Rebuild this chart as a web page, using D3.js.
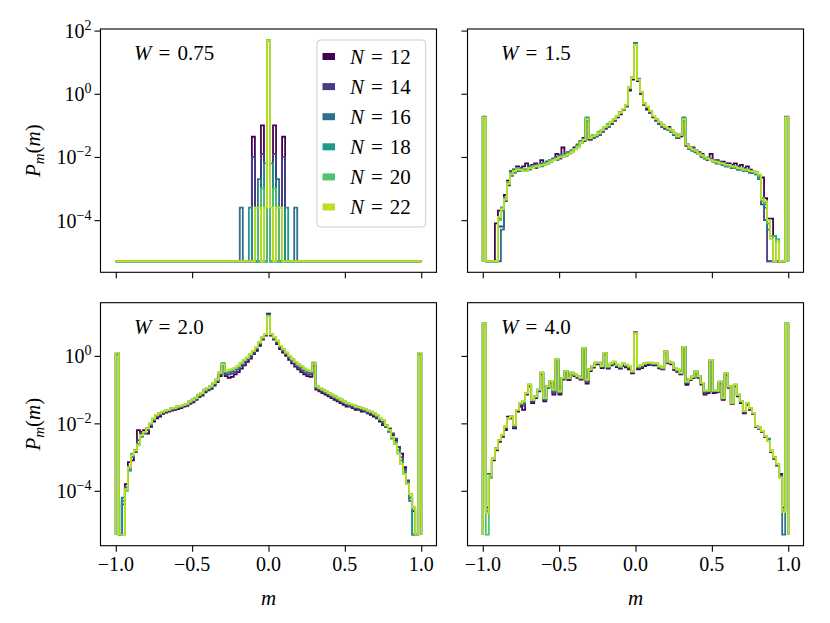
<!DOCTYPE html>
<html><head><meta charset="utf-8">
<script src="https://cdn.jsdelivr.net/npm/d3@7"></script>
<style>body{margin:0;background:#fff}svg text{font-family:"Liberation Serif","Times New Roman",serif;fill:#000}</style>
</head><body><svg id="c" width="830" height="623"></svg>
<script>
// ---------------- data (log10 of P_m(m) per bin, 101 bins over [-1,1]) ----------------
const Z = -5.3; // empty bin, drawn at the floor value
const sizes = [12, 14, 16, 18, 20, 22];
const disorder = ["0.75", "1.5", "2.0", "4.0"];
const xTicks = [-1.0, -0.5, 0.0, 0.5, 1.0];
const xTickLabels = ["\u22121.0", "\u22120.5", "0.0", "0.5", "1.0"];
const yTickExps = [-4, -2, 0, 2];

const W075_N12 = [Z,Z,Z,Z,Z,Z,Z,Z,Z,Z, Z,Z,Z,Z,Z,Z,Z,Z,Z,Z, Z,Z,Z,Z,Z,Z,Z,Z,Z,Z, Z,Z,Z,Z,Z,Z,Z,Z,Z,Z,
  Z,Z,Z,Z,Z,-1.36,Z,Z,-1.0,Z, 1.69,Z,-1.0,Z,Z,-1.36,Z,Z,Z,Z,
  Z,Z,Z,Z,Z,Z,Z,Z,Z,Z, Z,Z,Z,Z,Z,Z,Z,Z,Z,Z, Z,Z,Z,Z,Z,Z,Z,Z,Z,Z, Z,Z,Z,Z,Z,Z,Z,Z,Z,Z, Z];
const W075_N14 = [Z,Z,Z,Z,Z,Z,Z,Z,Z,Z, Z,Z,Z,Z,Z,Z,Z,Z,Z,Z, Z,Z,Z,Z,Z,Z,Z,Z,Z,Z, Z,Z,Z,Z,Z,Z,Z,Z,Z,Z,
  Z,Z,Z,Z,Z,-2.0,Z,Z,-1.9,Z, 1.69,Z,-1.9,Z,Z,-2.0,Z,Z,Z,Z,
  Z,Z,Z,Z,Z,Z,Z,Z,Z,Z, Z,Z,Z,Z,Z,Z,Z,Z,Z,Z, Z,Z,Z,Z,Z,Z,Z,Z,Z,Z, Z,Z,Z,Z,Z,Z,Z,Z,Z,Z, Z];
const W075_N16 = [Z,Z,Z,Z,Z,Z,Z,Z,Z,Z, Z,Z,Z,Z,Z,Z,Z,Z,Z,Z, Z,Z,Z,Z,Z,Z,Z,Z,Z,Z, Z,Z,Z,Z,Z,Z,Z,Z,Z,Z,
  Z,-3.6,Z,Z,Z,Z,Z,-2.7,Z,Z, 1.69,Z,Z,-2.7,Z,Z,Z,Z,Z,-3.6,
  Z,Z,Z,Z,Z,Z,Z,Z,Z,Z, Z,Z,Z,Z,Z,Z,Z,Z,Z,Z, Z,Z,Z,Z,Z,Z,Z,Z,Z,Z, Z,Z,Z,Z,Z,Z,Z,Z,Z,Z, Z];
const W075_N18 = [Z,Z,Z,Z,Z,Z,Z,Z,Z,Z, Z,Z,Z,Z,Z,Z,Z,Z,Z,Z, Z,Z,Z,Z,Z,Z,Z,Z,Z,Z, Z,Z,Z,Z,Z,Z,Z,Z,Z,Z,
  Z,Z,Z,Z,-3.6,Z,Z,Z,Z,-2.2, 1.69,-2.2,Z,Z,Z,Z,-3.6,Z,Z,Z,
  Z,Z,Z,Z,Z,Z,Z,Z,Z,Z, Z,Z,Z,Z,Z,Z,Z,Z,Z,Z, Z,Z,Z,Z,Z,Z,Z,Z,Z,Z, Z,Z,Z,Z,Z,Z,Z,Z,Z,Z, Z];
const W075_N20 = [Z,Z,Z,Z,Z,Z,Z,Z,Z,Z, Z,Z,Z,Z,Z,Z,Z,Z,Z,Z, Z,Z,Z,Z,Z,Z,Z,Z,Z,Z, Z,Z,Z,Z,Z,Z,Z,Z,Z,Z,
  Z,Z,Z,Z,Z,Z,-3.6,Z,-3.0,Z, 1.69,Z,-3.0,Z,-3.6,Z,Z,Z,Z,Z,
  Z,Z,Z,Z,Z,Z,Z,Z,Z,Z, Z,Z,Z,Z,Z,Z,Z,Z,Z,Z, Z,Z,Z,Z,Z,Z,Z,Z,Z,Z, Z,Z,Z,Z,Z,Z,Z,Z,Z,Z, Z];
const W075_N22 = [Z,Z,Z,Z,Z,Z,Z,Z,Z,Z, Z,Z,Z,Z,Z,Z,Z,Z,Z,Z, Z,Z,Z,Z,Z,Z,Z,Z,Z,Z, Z,Z,Z,Z,Z,Z,Z,Z,Z,Z,
  Z,Z,Z,Z,Z,Z,-3.6,-3.6,Z,-3.6, 1.70,-3.6,Z,-3.6,-3.6,Z,Z,Z,Z,Z,
  Z,Z,Z,Z,Z,Z,Z,Z,Z,Z, Z,Z,Z,Z,Z,Z,Z,Z,Z,Z, Z,Z,Z,Z,Z,Z,Z,Z,Z,Z, Z,Z,Z,Z,Z,Z,Z,Z,Z,Z, Z];

const W150_N12 = [-0.75, Z, Z, Z, -4.1, -3.7, -3.6, -3.2, -2.75, -2.45,
 -2.4, -2.3, -2.35, -2.3, -2.2, -2.3, -2.25, -2.2, -2.25, -2.1,
 -2.2, -2.15, -2.1, -2.05, -1.9, -1.95, -1.7, -1.95, -1.85, -1.8,
 -1.7, -1.65, -1.5, -1.4, -0.85, -1.45, -1.4, -1.35, -1.3, -1.2,
 -1.1, -1.05, -0.95, -0.85, -0.75, -0.65, -0.5, -0.4, 0.1, 0.45,
 1.6, 0.4, 0.0, -0.35, -0.5, -0.6, -0.75, -0.85, -0.95, -1.05,
 -1.1, -1.05, -1.2, -1.3, -1.4, -1.35, -0.85, -1.65, -1.75, -1.7,
 -1.8, -1.85, -1.9, -2.0, -2.05, -1.9, -2.15, -2.1, -2.2, -2.15,
 -2.2, -2.2, -2.25, -2.2, -2.3, -2.25, -2.35, -2.3, -2.4, -2.5,
 -2.5, -2.6, -2.65, -3.3, -3.95, -3.95, Z, Z, Z, Z,
 -0.75];
const W150_N14 = [-0.72, Z, Z, Z, Z, -4.2, -4.2, -3.4, -2.9, -2.5,
 -2.4, -2.45, -2.35, -2.45, -2.4, -2.35, -2.3, -2.35, -2.25, -2.25,
 -2.2, -2.2, -2.1, -2.1, -2.0, -2.05, -1.95, -1.95, -1.85, -1.8,
 -1.75, -1.65, -1.55, -1.5, -0.8, -1.45, -1.4, -1.3, -1.3, -1.2,
 -1.1, -1.0, -0.95, -0.85, -0.75, -0.6, -0.5, -0.4, 0.15, 0.5,
 1.58, 0.45, 0.0, -0.3, -0.45, -0.6, -0.7, -0.85, -0.95, -1.0,
 -1.1, -1.1, -1.2, -1.3, -1.4, -1.3, -0.82, -1.6, -1.7, -1.8,
 -1.8, -1.9, -2.0, -2.0, -2.1, -2.05, -2.15, -2.2, -2.2, -2.25,
 -2.2, -2.3, -2.3, -2.35, -2.3, -2.4, -2.35, -2.45, -2.45, -2.5,
 -2.5, -2.6, -3.5, -4.0, Z, Z, Z, Z, Z, Z,
 -0.72];
const W150_N16 = [-0.74, Z, Z, Z, Z, Z, -4.3, -3.3, -2.8, -2.6,
 -2.4, -2.35, -2.4, -2.4, -2.45, -2.3, -2.35, -2.25, -2.3, -2.2,
 -2.25, -2.15, -2.15, -2.05, -2.05, -1.95, -2.0, -1.9, -1.9, -1.8,
 -1.75, -1.6, -1.55, -1.45, -0.78, -1.4, -1.35, -1.35, -1.25, -1.2,
 -1.05, -1.05, -0.9, -0.85, -0.7, -0.6, -0.5, -0.38, 0.2, 0.52,
 1.6, 0.48, 0.05, -0.32, -0.42, -0.58, -0.72, -0.82, -0.92, -1.0,
 -1.05, -1.15, -1.15, -1.3, -1.35, -1.3, -0.78, -1.6, -1.75, -1.75,
 -1.85, -1.9, -1.95, -2.05, -2.05, -2.1, -2.1, -2.2, -2.15, -2.25,
 -2.3, -2.25, -2.35, -2.3, -2.4, -2.35, -2.45, -2.4, -2.5, -2.45,
 -2.55, -2.7, -3.3, -3.6, -4.3, -4.5, Z, Z, Z, Z,
 -0.74];
const W150_N18 = [-0.75, Z, Z, Z, Z, -3.95, -3.7, -3.3, -2.8, -2.5,
 -2.5, -2.4, -2.45, -2.4, -2.4, -2.4, -2.3, -2.3, -2.25, -2.3,
 -2.2, -2.2, -2.15, -2.1, -2.1, -2.0, -1.95, -1.95, -1.85, -1.85,
 -1.75, -1.65, -1.5, -1.45, -0.75, -1.4, -1.35, -1.3, -1.25, -1.15,
 -1.05, -1.0, -0.9, -0.8, -0.7, -0.6, -0.48, -0.36, 0.18, 0.5,
 1.56, 0.45, 0.05, -0.3, -0.42, -0.55, -0.7, -0.8, -0.9, -1.0,
 -1.05, -1.1, -1.2, -1.25, -1.35, -1.3, -0.75, -1.6, -1.7, -1.8,
 -1.8, -1.9, -1.95, -2.0, -2.05, -2.1, -2.15, -2.15, -2.2, -2.2,
 -2.3, -2.25, -2.3, -2.35, -2.4, -2.35, -2.45, -2.4, -2.45, -2.5,
 -2.55, -2.65, -3.4, -3.5, -4.1, -4.5, -4.5, Z, Z, Z,
 -0.75];
const W150_N20 = [-0.76, Z, Z, Z, Z, -4.0, -3.6, -3.3, -2.8, -2.5,
 -2.45, -2.35, -2.4, -2.4, -2.45, -2.35, -2.3, -2.3, -2.25, -2.25,
 -2.2, -2.2, -2.1, -2.1, -2.05, -2.0, -1.95, -1.95, -1.9, -1.8,
 -1.75, -1.65, -1.55, -1.45, -0.78, -1.4, -1.3, -1.3, -1.2, -1.15,
 -1.05, -0.95, -0.9, -0.8, -0.7, -0.58, -0.48, -0.35, 0.18, 0.5,
 1.56, 0.45, 0.05, -0.3, -0.42, -0.55, -0.7, -0.8, -0.9, -0.98,
 -1.05, -1.1, -1.18, -1.25, -1.35, -1.28, -0.8, -1.6, -1.7, -1.78,
 -1.8, -1.88, -1.95, -2.02, -2.05, -2.1, -2.12, -2.18, -2.2, -2.22,
 -2.25, -2.28, -2.3, -2.32, -2.35, -2.38, -2.4, -2.42, -2.45, -2.48,
 -2.5, -2.6, -3.3, -3.45, -4.1, -4.5, Z, -4.6, Z, Z,
 -0.76];
const W150_N22 = [-0.75, Z, Z, Z, Z, -3.9, -3.65, -3.35, -2.85, -2.55,
 -2.45, -2.4, -2.4, -2.45, -2.45, -2.35, -2.35, -2.3, -2.3, -2.25,
 -2.25, -2.2, -2.15, -2.1, -2.05, -2.0, -2.0, -1.95, -1.9, -1.85,
 -1.75, -1.7, -1.55, -1.45, -0.8, -1.4, -1.35, -1.3, -1.25, -1.15,
 -1.05, -1.0, -0.9, -0.8, -0.7, -0.6, -0.48, -0.35, 0.2, 0.5,
 1.55, 0.45, 0.05, -0.3, -0.4, -0.55, -0.7, -0.8, -0.9, -1.0,
 -1.05, -1.1, -1.15, -1.25, -1.35, -1.3, -0.8, -1.6, -1.7, -1.75,
 -1.8, -1.9, -1.95, -2.0, -2.05, -2.1, -2.15, -2.15, -2.2, -2.2,
 -2.25, -2.25, -2.3, -2.3, -2.35, -2.35, -2.4, -2.4, -2.45, -2.45,
 -2.5, -2.55, -3.35, -3.4, -4.0, -4.6, Z, -4.7, Z, Z,
 -0.75];

const W200_N12 = [0.05, Z, -4.3, -3.8, -3.15, -3.1, -2.8, -2.2, -2.25, -2.2,
 -2.3, -2.1, -1.95, -1.85, -1.8, -1.72, -1.68, -1.65, -1.62, -1.6,
 -1.58, -1.55, -1.5, -1.48, -1.42, -1.38, -1.3, -1.22, -1.18, -1.08,
 -1.02, -0.98, -0.88, -0.78, -0.6, -0.3, -0.6, -0.65, -0.62, -0.55,
 -0.48, -0.38, -0.28, -0.18, -0.08, 0.05, 0.15, 0.3, 0.48, 0.6,
 1.25, 0.6, 0.48, 0.35, 0.2, 0.1, 0.0, -0.12, -0.22, -0.32,
 -0.4, -0.48, -0.55, -0.6, -0.62, -0.3, -1.0, -1.05, -1.1, -1.15,
 -1.2, -1.25, -1.3, -1.35, -1.4, -1.45, -1.5, -1.5, -1.55, -1.6,
 -1.6, -1.65, -1.65, -1.7, -1.75, -1.8, -1.85, -1.95, -2.05, -2.1,
 -2.2, -2.35, -2.5, -2.7, -2.9, -3.3, -3.7, -4.2, -4.6, Z,
 0.05];
const W200_N14 = [0.07, Z, -4.4, -3.9, -3.3, -3.0, -2.85, -2.5, -2.3, -2.25,
 -2.2, -2.05, -1.9, -1.8, -1.75, -1.7, -1.65, -1.62, -1.6, -1.58,
 -1.55, -1.52, -1.48, -1.45, -1.4, -1.35, -1.28, -1.2, -1.15, -1.05,
 -1.0, -0.95, -0.85, -0.75, -0.55, -0.28, -0.55, -0.55, -0.52, -0.48,
 -0.4, -0.3, -0.2, -0.12, -0.02, 0.1, 0.2, 0.35, 0.5, 0.62,
 1.22, 0.62, 0.5, 0.4, 0.25, 0.15, 0.05, -0.05, -0.15, -0.25,
 -0.35, -0.42, -0.5, -0.55, -0.55, -0.26, -0.95, -1.0, -1.05, -1.1,
 -1.15, -1.2, -1.25, -1.3, -1.35, -1.4, -1.45, -1.48, -1.5, -1.55,
 -1.58, -1.6, -1.62, -1.68, -1.7, -1.75, -1.82, -1.9, -2.0, -2.05,
 -2.15, -2.3, -2.45, -2.7, -3.0, -3.35, -3.7, -4.1, -4.5, Z,
 0.07];
const W200_N16 = [0.08, Z, -4.2, -3.9, -3.4, -3.0, -2.8, -2.6, -2.4, -2.3,
 -2.15, -2.05, -1.9, -1.78, -1.72, -1.68, -1.64, -1.6, -1.58, -1.55,
 -1.52, -1.5, -1.46, -1.44, -1.38, -1.32, -1.26, -1.18, -1.12, -1.02,
 -0.98, -0.92, -0.82, -0.72, -0.52, -0.22, -0.5, -0.48, -0.45, -0.4,
 -0.35, -0.25, -0.15, -0.08, 0.02, 0.12, 0.22, 0.38, 0.52, 0.64,
 1.21, 0.64, 0.52, 0.42, 0.27, 0.17, 0.07, -0.03, -0.12, -0.2,
 -0.28, -0.35, -0.42, -0.48, -0.5, -0.2, -0.92, -0.98, -1.02, -1.08,
 -1.12, -1.18, -1.22, -1.28, -1.32, -1.38, -1.42, -1.45, -1.48, -1.52,
 -1.55, -1.58, -1.6, -1.65, -1.68, -1.72, -1.8, -1.9, -1.95, -2.1,
 -2.25, -2.4, -2.6, -2.8, -3.1, -3.4, -3.8, -4.3, Z, Z,
 0.08];
const W200_N18 = [0.09, Z, -4.3, -3.95, -3.35, -2.95, -2.8, -2.62, -2.38, -2.28,
 -2.15, -2.02, -1.88, -1.76, -1.7, -1.66, -1.63, -1.6, -1.56, -1.55,
 -1.5, -1.48, -1.45, -1.42, -1.36, -1.3, -1.25, -1.16, -1.1, -1.0,
 -0.96, -0.9, -0.8, -0.7, -0.5, -0.22, -0.47, -0.44, -0.42, -0.37,
 -0.32, -0.22, -0.13, -0.06, 0.04, 0.14, 0.24, 0.39, 0.54, 0.65,
 1.19, 0.65, 0.54, 0.44, 0.29, 0.19, 0.08, -0.02, -0.1, -0.18,
 -0.26, -0.32, -0.4, -0.45, -0.47, -0.22, -0.9, -0.96, -1.0, -1.06,
 -1.1, -1.16, -1.2, -1.26, -1.3, -1.36, -1.4, -1.43, -1.46, -1.5,
 -1.53, -1.56, -1.6, -1.63, -1.66, -1.72, -1.78, -1.88, -1.92, -2.08,
 -2.22, -2.45, -2.55, -2.8, -3.1, -3.45, -3.75, -4.2, Z, Z,
 0.09];
const W200_N20 = [0.09, Z, Z, -4.0, -3.35, -2.9, -2.8, -2.62, -2.36, -2.26,
 -2.15, -2.0, -1.86, -1.75, -1.7, -1.66, -1.62, -1.6, -1.56, -1.54,
 -1.5, -1.48, -1.45, -1.42, -1.35, -1.3, -1.24, -1.15, -1.1, -1.0,
 -0.95, -0.9, -0.8, -0.7, -0.5, -0.24, -0.46, -0.43, -0.4, -0.36,
 -0.3, -0.21, -0.12, -0.05, 0.05, 0.15, 0.25, 0.4, 0.55, 0.65,
 1.18, 0.65, 0.55, 0.45, 0.3, 0.2, 0.1, 0.0, -0.1, -0.18,
 -0.25, -0.31, -0.38, -0.43, -0.45, -0.22, -0.9, -0.95, -1.0, -1.05,
 -1.1, -1.15, -1.2, -1.25, -1.3, -1.35, -1.4, -1.42, -1.46, -1.5,
 -1.52, -1.55, -1.58, -1.62, -1.65, -1.7, -1.76, -1.85, -1.9, -2.06,
 -2.2, -2.42, -2.6, -2.9, -3.2, -3.5, -3.8, -4.1, -4.5, Z,
 0.09];
const W200_N22 = [0.09, Z, Z, -3.95, -3.3, -2.95, -2.8, -2.65, -2.35, -2.25,
 -2.15, -2.0, -1.85, -1.75, -1.7, -1.65, -1.62, -1.6, -1.55, -1.55,
 -1.5, -1.48, -1.45, -1.42, -1.35, -1.3, -1.25, -1.15, -1.1, -1.0,
 -0.95, -0.9, -0.8, -0.7, -0.5, -0.25, -0.45, -0.42, -0.4, -0.35,
 -0.3, -0.2, -0.12, -0.05, 0.05, 0.15, 0.25, 0.4, 0.55, 0.65,
 1.17, 0.65, 0.55, 0.45, 0.3, 0.2, 0.1, 0.0, -0.1, -0.18,
 -0.25, -0.3, -0.38, -0.42, -0.45, -0.22, -0.9, -0.95, -1.0, -1.05,
 -1.1, -1.15, -1.2, -1.25, -1.3, -1.35, -1.4, -1.42, -1.45, -1.5,
 -1.52, -1.55, -1.58, -1.62, -1.65, -1.7, -1.75, -1.85, -1.9, -2.05,
 -2.2, -2.4, -2.6, -2.9, -3.2, -3.5, -3.8, -4.1, -4.5, Z,
 0.09];

const W400_N12 = [0.95, -4.5, -3.6, -3.1, -2.8, -2.55, -2.4, -2.2, -1.8, -1.85,
 -2.15, -1.65, -1.5, -1.6, -1.15, -0.9, -1.4, -1.25, -1.05, -0.55,
 -1.35, -0.95, -0.8, -1.15, -0.15, -1.15, -0.7, -0.5, -0.72, -0.55,
 -0.6, -0.65, -0.7, 0.2, -0.82, -0.45, -0.35, -0.25, -0.25, -0.36,
 0.05, -0.38, -0.28, -0.24, -0.33, -0.38, -0.3, -0.34, -0.4, -0.52,
 0.7, -0.4, -0.36, -0.3, -0.27, -0.26, -0.28, -0.28, -0.37, -0.4,
 0.1, -0.22, -0.25, -0.42, -0.47, -0.55, 0.25, -0.86, -0.72, -0.66,
 -0.5, -0.65, -0.85, -1.15, -1.1, -0.15, -1.1, -1.08, -0.82, -1.3,
 -0.56, -0.95, -1.42, -0.9, -1.2, -1.4, -1.7, -1.45, -1.6, -1.72,
 -2.1, -2.16, -2.25, -2.4, -2.5, -2.85, -3.05, -3.25, -3.5, -4.5,
 0.95];
const W400_N14 = [0.96, -4.6, -3.6, -3.06, -2.77, -2.52, -2.37, -2.14, -1.84, -1.82,
 -2.1, -1.62, -1.45, -1.47, -1.12, -0.87, -1.35, -1.22, -1.02, -0.52,
 -1.3, -0.92, -0.77, -1.08, -0.12, -1.1, -0.67, -0.47, -0.68, -0.52,
 -0.57, -0.62, -0.67, 0.22, -0.76, -0.42, -0.32, -0.22, -0.22, -0.33,
 0.07, -0.35, -0.25, -0.2, -0.3, -0.35, -0.26, -0.3, -0.36, -0.49,
 0.69, -0.36, -0.32, -0.26, -0.23, -0.23, -0.25, -0.25, -0.34, -0.38,
 0.12, -0.2, -0.22, -0.39, -0.44, -0.52, 0.26, -0.81, -0.7, -0.63,
 -0.48, -0.62, -0.82, -1.09, -1.06, -0.13, -1.06, -1.05, -0.79, -1.27,
 -0.53, -0.92, -1.4, -0.87, -1.17, -1.37, -1.67, -1.42, -1.57, -1.7,
 -2.09, -2.14, -2.23, -2.38, -2.51, -2.83, -3.03, -3.23, -3.55, -4.6,
 0.96];
const W400_N16 = [0.96, -3.5, -3.5, -3.05, -2.74, -2.5, -2.35, -2.11, -1.85, -1.8,
 -2.07, -1.61, -1.42, -1.4, -1.11, -0.86, -1.32, -1.21, -1.01, -0.51,
 -1.28, -0.91, -0.76, -1.04, -0.11, -1.07, -0.66, -0.46, -0.66, -0.51,
 -0.56, -0.61, -0.66, 0.23, -0.73, -0.41, -0.31, -0.21, -0.21, -0.31,
 0.08, -0.33, -0.24, -0.19, -0.28, -0.33, -0.24, -0.28, -0.33, -0.47,
 0.68, -0.34, -0.3, -0.24, -0.22, -0.22, -0.24, -0.24, -0.33, -0.37,
 0.13, -0.18, -0.21, -0.37, -0.42, -0.51, 0.27, -0.78, -0.69, -0.62,
 -0.47, -0.61, -0.81, -1.06, -1.04, -0.12, -1.04, -1.04, -0.77, -1.26,
 -0.52, -0.91, -1.39, -0.86, -1.16, -1.35, -1.65, -1.41, -1.56, -1.69,
 -2.08, -2.13, -2.22, -2.37, -2.45, -2.82, -3.01, -3.22, -3.58, Z,
 0.96];
const W400_N18 = [0.96, -4.6, -3.52, -3.05, -2.75, -2.5, -2.35, -2.1, -1.85, -1.8,
 -2.06, -1.6, -1.41, -1.37, -1.1, -0.85, -1.31, -1.2, -1.0, -0.5,
 -1.26, -0.9, -0.75, -1.02, -0.1, -1.06, -0.65, -0.45, -0.65, -0.5,
 -0.55, -0.6, -0.65, 0.23, -0.71, -0.4, -0.3, -0.2, -0.2, -0.3,
 0.08, -0.32, -0.23, -0.18, -0.27, -0.32, -0.23, -0.27, -0.32, -0.46,
 0.67, -0.32, -0.28, -0.23, -0.21, -0.21, -0.23, -0.23, -0.32, -0.36,
 0.13, -0.17, -0.2, -0.36, -0.41, -0.5, 0.27, -0.77, -0.68, -0.61,
 -0.46, -0.6, -0.8, -1.04, -1.03, -0.12, -1.03, -1.03, -0.76, -1.25,
 -0.51, -0.9, -1.39, -0.85, -1.15, -1.34, -1.64, -1.4, -1.55, -1.69,
 -2.08, -2.13, -2.22, -2.37, -2.47, -2.8, -3.01, -3.21, -3.6, -4.63,
 0.96];
const W400_N20 = [0.96, Z, -3.6, -3.05, -2.75, -2.5, -2.35, -2.1, -1.85, -1.8,
 -2.05, -1.6, -1.4, -1.35, -1.1, -0.85, -1.3, -1.2, -1.0, -0.5,
 -1.25, -0.9, -0.75, -1.0, -0.1, -1.05, -0.65, -0.45, -0.65, -0.5,
 -0.55, -0.6, -0.65, 0.23, -0.7, -0.4, -0.3, -0.2, -0.2, -0.3,
 0.08, -0.31, -0.22, -0.17, -0.26, -0.31, -0.22, -0.26, -0.31, -0.46,
 0.67, -0.31, -0.27, -0.22, -0.2, -0.2, -0.22, -0.22, -0.31, -0.35,
 0.13, -0.17, -0.2, -0.36, -0.41, -0.5, 0.27, -0.76, -0.68, -0.61,
 -0.46, -0.6, -0.8, -1.03, -1.03, -0.12, -1.03, -1.03, -0.76, -1.25,
 -0.51, -0.9, -1.39, -0.85, -1.15, -1.34, -1.64, -1.4, -1.55, -1.69,
 -2.08, -2.13, -2.22, -2.37, -2.52, -2.82, -3.01, -3.21, -3.6, -4.63,
 0.96];
const W400_N22 = [0.96, -4.65, -3.55, -3.05, -2.75, -2.5, -2.35, -2.1, -1.85, -1.8,
 -2.05, -1.6, -1.4, -1.35, -1.1, -0.85, -1.3, -1.2, -1.0, -0.5,
 -1.25, -0.9, -0.75, -1.0, -0.1, -1.05, -0.65, -0.45, -0.65, -0.5,
 -0.55, -0.6, -0.65, 0.23, -0.7, -0.4, -0.3, -0.2, -0.2, -0.3,
 0.08, -0.31, -0.22, -0.17, -0.26, -0.31, -0.22, -0.26, -0.31, -0.46,
 0.67, -0.31, -0.27, -0.22, -0.2, -0.2, -0.22, -0.22, -0.31, -0.35,
 0.13, -0.17, -0.2, -0.36, -0.41, -0.5, 0.27, -0.76, -0.68, -0.61,
 -0.46, -0.6, -0.8, -1.03, -1.03, -0.12, -1.03, -1.03, -0.76, -1.25,
 -0.51, -0.9, -1.39, -0.85, -1.15, -1.34, -1.64, -1.4, -1.55, -1.69,
 -2.08, -2.13, -2.22, -2.37, -2.52, -2.82, -3.01, -3.21, -3.6, -4.63,
 0.96];

// ---------------- layout ----------------
const svg = d3.select("#c");
const NB = 101;
const edges = d3.range(NB + 1).map(i => -1 + 2 * i / NB);
const colors = [0, 0.18, 0.36, 0.54, 0.72, 0.9].map(t => d3.interpolateViridis(t));
const cols = [{x0: 100.5, x1: 436.5}, {x0: 467.5, x1: 803.5}];
const rows = [{y0: 29, y1: 272.3}, {y0: 302.7, y1: 545.7}];
const panels = [
  {w: disorder[0], row: 0, col: 0, series: [W075_N12, W075_N14, W075_N16, W075_N18, W075_N20, W075_N22]},
  {w: disorder[1], row: 0, col: 1, series: [W150_N12, W150_N14, W150_N16, W150_N18, W150_N20, W150_N22]},
  {w: disorder[2], row: 1, col: 0, series: [W200_N12, W200_N14, W200_N16, W200_N18, W200_N20, W200_N22]},
  {w: disorder[3], row: 1, col: 1, series: [W400_N12, W400_N14, W400_N16, W400_N18, W400_N20, W400_N22]}
];
// shared y per row, matplotlib-like 5% margins in log space
const rowDomain = [0, 1].map(r => {
  const all = panels.filter(p => p.row === r).flatMap(p => p.series.flat());
  const lo = d3.min(all), hi = d3.max(all), m = 0.05 * (hi - lo);
  return [Math.pow(10, lo - m), Math.pow(10, hi + m)];
});
const FS = 20, TICK = 6;
const SP = "\u2004"; // math-like spacing around "="

panels.forEach((p, idx) => {
  const c = cols[p.col], r = rows[p.row];
  const x = d3.scaleLinear().domain([-1.1, 1.1]).range([c.x0, c.x1]);
  const y = d3.scaleLog().domain(rowDomain[p.row]).range([r.y1, r.y0]);
  const clipId = "clip" + idx;
  svg.append("clipPath").attr("id", clipId).append("rect")
    .attr("x", c.x0).attr("y", r.y0).attr("width", c.x1 - c.x0).attr("height", r.y1 - r.y0);
  const g = svg.append("g").attr("clip-path", `url(#${clipId})`);
  const line = d3.line().x(d => x(d[0])).y(d => y(d[1]));
  const floor = Math.pow(10, Z);
  p.series.forEach((vals, k) => {
    const pts = [[edges[0], floor]];
    vals.forEach((v, i) => { const P = Math.pow(10, v); pts.push([edges[i], P], [edges[i + 1], P]); });
    pts.push([edges[NB], floor]);
    g.append("path").attr("d", line(pts)).attr("fill", "none")
      .attr("stroke", colors[k]).attr("stroke-width", 1.8).attr("stroke-linejoin", "miter");
  });
  // x ticks
  const xa = svg.append("g").attr("transform", `translate(0,${r.y1})`)
    .call(d3.axisBottom(x).tickValues(xTicks).tickSize(TICK).tickSizeOuter(0).tickFormat(""));
  xa.select(".domain").remove();
  xa.selectAll(".tick line").attr("stroke", "#000").attr("stroke-width", 1.1);
  if (p.row === 1) {
    xTicks.forEach((t, i) => {
      svg.append("text").attr("x", x(t)).attr("y", r.y1 + 25).attr("text-anchor", "middle")
        .attr("font-size", FS).text(xTickLabels[i]);
    });
    svg.append("text").attr("x", (c.x0 + c.x1) / 2).attr("y", 605).attr("text-anchor", "middle")
      .attr("font-size", FS + 1).attr("font-style", "italic").text("m");
  }
  // y ticks
  const yVals = yTickExps.map(e => Math.pow(10, e)).filter(v => v >= rowDomain[p.row][0] && v <= rowDomain[p.row][1]);
  const ya = svg.append("g").attr("transform", `translate(${c.x0},0)`)
    .call(d3.axisLeft(y).tickValues(yVals).tickSize(TICK).tickSizeOuter(0).tickFormat(""));
  ya.select(".domain").remove();
  ya.selectAll(".tick line").attr("stroke", "#000").attr("stroke-width", 1.1);
  if (p.col === 0) {
    yVals.forEach(v => {
      const e = Math.round(Math.log10(v));
      const t = svg.append("text").attr("x", c.x0 - 9).attr("y", y(v) + 7.5)
        .attr("text-anchor", "end").attr("font-size", FS);
      t.append("tspan").text("10");
      t.append("tspan").attr("font-size", 14).attr("dy", -8).text(e < 0 ? "\u2212" + Math.abs(e) : String(e));
    });
    const cy = (r.y0 + r.y1) / 2;
    const yl = svg.append("text").attr("transform", `translate(40,${cy}) rotate(-90)`)
      .attr("text-anchor", "middle").attr("font-size", FS + 1);
    yl.append("tspan").attr("font-style", "italic").text("P");
    yl.append("tspan").attr("font-style", "italic").attr("font-size", 15).attr("dy", 4).text("m");
    yl.append("tspan").attr("dy", -4).text("(");
    yl.append("tspan").attr("font-style", "italic").text("m");
    yl.append("tspan").text(")");
  }
  // frame
  svg.append("rect").attr("x", c.x0).attr("y", r.y0).attr("width", c.x1 - c.x0).attr("height", r.y1 - r.y0)
    .attr("fill", "none").attr("stroke", "#000").attr("stroke-width", 1.1);
  // panel label
  const lab = svg.append("text").attr("x", c.x0 + 0.1 * (c.x1 - c.x0)).attr("y", r.y0 + 31).attr("font-size", FS + 1);
  lab.append("tspan").attr("font-style", "italic").text("W");
  lab.append("tspan").text(SP + "=" + SP + p.w);
});

// legend (top-left panel)
const lg = svg.append("g");
lg.append("rect").attr("x", 317).attr("y", 40).attr("width", 108.7).attr("height", 187).attr("rx", 3.5)
  .attr("fill", "#fff").attr("fill-opacity", 0.8).attr("stroke", "#cccccc").attr("stroke-width", 1);
sizes.forEach((n, k) => {
  const cy = 56.5 + k * 30.1;
  lg.append("rect").attr("x", 322.5).attr("y", cy - 3.5).attr("width", 12.5).attr("height", 7).attr("fill", colors[k]);
  const t = lg.append("text").attr("x", 350).attr("y", cy + 7).attr("font-size", FS + 1);
  t.append("tspan").attr("font-style", "italic").text("N");
  t.append("tspan").text(SP + "=" + SP + n);
});
</script></body></html>
